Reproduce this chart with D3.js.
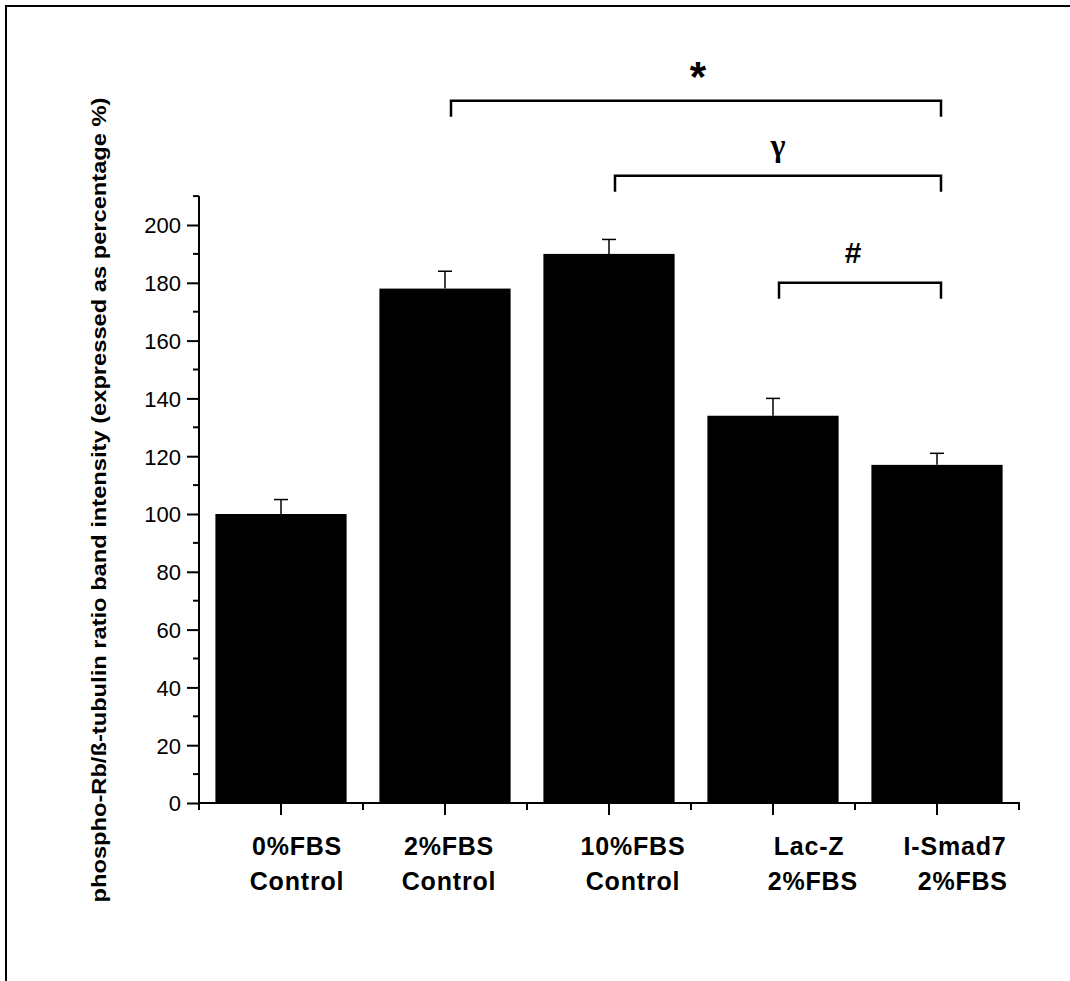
<!DOCTYPE html>
<html>
<head>
<meta charset="utf-8">
<script src="https://cdn.jsdelivr.net/npm/d3@7"></script>
<style>
  body { margin: 0; background: #fff; }
  svg text { font-family: "Liberation Sans", Arial, sans-serif; fill: #000; }
</style>
</head>
<body>
<svg id="chart" width="1070" height="981"></svg>
<script>
// data
var groups = ['0%FBS|Control', '2%FBS|Control', '10%FBS|Control', 'Lac-Z| 2%FBS', 'I-Smad7|  2%FBS'];
var values = [100, 178, 190, 134, 117];
var errors = [5, 6, 5, 6, 4];
var yTicks = [0, 20, 40, 60, 80, 100, 120, 140, 160, 180, 200];
var brackets = [
  { from: 1, to: 4, level: 243, mark: '*' },
  { from: 2, to: 4, level: 217, mark: '\u03b3' },
  { from: 3, to: 4, level: 180, mark: '#' }
];
var yTitle = 'phospho-Rb/\u00df-tubulin ratio band intensity (expressed as percentage %)';

var svg = d3.select('#chart');

// frame around the figure
svg.append('path')
    .attr('d', 'M6,981 V6 H1070')
    .attr('fill', 'none')
    .attr('stroke', '#000')
    .attr('stroke-width', 2);

var x = d3.scaleBand()
    .domain(d3.range(groups.length))
    .range([199, 1019])
    .paddingInner(0.2)
    .paddingOuter(0.1);

var y = d3.scaleLinear().domain([0, 200]).range([803, 225]);

// bars
svg.selectAll('rect.bar')
    .data(values)
  .enter().append('rect')
    .attr('class', 'bar')
    .attr('x', function(d, i) { return x(i); })
    .attr('width', x.bandwidth())
    .attr('y', function(d) { return y(d); })
    .attr('height', function(d) { return y(0) - y(d); })
    .attr('fill', '#000');

// error bars (upper half only)
var eb = svg.selectAll('g.err')
    .data(values)
  .enter().append('g')
    .attr('class', 'err')
    .attr('stroke', '#000')
    .attr('stroke-width', 1.5);
eb.append('line')
    .attr('x1', function(d, i) { return x(i) + x.bandwidth() / 2; })
    .attr('x2', function(d, i) { return x(i) + x.bandwidth() / 2; })
    .attr('y1', function(d) { return y(d); })
    .attr('y2', function(d, i) { return y(d + errors[i]); });
eb.append('line')
    .attr('x1', function(d, i) { return x(i) + x.bandwidth() / 2 - 7; })
    .attr('x2', function(d, i) { return x(i) + x.bandwidth() / 2 + 7; })
    .attr('y1', function(d, i) { return y(d + errors[i]); })
    .attr('y2', function(d, i) { return y(d + errors[i]); });

// y axis
var yAxis = svg.append('g')
    .attr('transform', 'translate(199,0)')
    .call(d3.axisLeft(y).tickValues(yTicks).tickSize(12).tickPadding(6));
yAxis.select('.domain').remove();
yAxis.append('line')
    .attr('y1', y(210)).attr('y2', y(0))
    .attr('stroke', '#000').attr('stroke-width', 2);
yAxis.selectAll('.tick line').attr('stroke-width', 2);
yAxis.selectAll('.tick text')
    .style('font-size', '22px')
    .attr('dy', '0.36em');
yAxis.selectAll('line.minor')
    .data(d3.range(10, 220, 20))
  .enter().append('line')
    .attr('class', 'minor')
    .attr('x1', -6).attr('x2', 0)
    .attr('y1', function(d) { return y(d); })
    .attr('y2', function(d) { return y(d); })
    .attr('stroke', '#000').attr('stroke-width', 2);

// x axis
var xAxis = svg.append('g').attr('transform', 'translate(0,' + y(0) + ')');
xAxis.append('line')
    .attr('x1', 199).attr('x2', 1020)
    .attr('stroke', '#000').attr('stroke-width', 2);
xAxis.selectAll('line.major')
    .data(d3.range(groups.length))
  .enter().append('line')
    .attr('x1', function(i) { return x(i) + x.bandwidth() / 2; })
    .attr('x2', function(i) { return x(i) + x.bandwidth() / 2; })
    .attr('y1', 0).attr('y2', 12)
    .attr('stroke', '#000').attr('stroke-width', 2);
xAxis.selectAll('line.minor')
    .data(d3.range(groups.length + 1))
  .enter().append('line')
    .attr('x1', function(i) { return 199 + i * x.step(); })
    .attr('x2', function(i) { return 199 + i * x.step(); })
    .attr('y1', 0).attr('y2', 7)
    .attr('stroke', '#000').attr('stroke-width', 2);

var labelShift = [16, 4, 24, 36, 18];
var lab = xAxis.selectAll('text.cat')
    .data(groups)
  .enter().append('text')
    .attr('class', 'cat')
    .attr('text-anchor', 'middle')
    .attr('x', function(d, i) { return x(i) + x.bandwidth() / 2 + labelShift[i]; })
    .style('font-size', '25px')
    .style('font-weight', 'bold')
    .style('letter-spacing', '0.8px')
    .style('white-space', 'pre');
lab.append('tspan')
    .attr('x', function(d, i) { return x(i) + x.bandwidth() / 2 + labelShift[i]; })
    .attr('y', 52)
    .text(function(d) { return d.split('|')[0]; });
lab.append('tspan')
    .attr('x', function(d, i) { return x(i) + x.bandwidth() / 2 + labelShift[i]; })
    .attr('y', 87)
    .text(function(d) { return d.split('|')[1]; });

// y title
svg.append('text')
    .attr('transform', 'translate(106,500) rotate(-90)')
    .attr('text-anchor', 'middle')
    .attr('textLength', 805)
    .attr('lengthAdjust', 'spacingAndGlyphs')
    .style('font-size', '21px')
    .style('font-weight', 'bold')
    .text(yTitle);

// significance brackets
var cx = function(i) { return x(i) + x.bandwidth() / 2; };
var markX = [698, 778, 853];
var markSize = ['42px', '32px', '30px'];
var br = svg.selectAll('g.bracket')
    .data(brackets)
  .enter().append('g')
    .attr('class', 'bracket');
br.append('path')
    .attr('d', function(d) {
      var yy = y(d.level);
      return 'M' + (cx(d.from) + 6) + ',' + (yy + 16) + 'V' + yy +
             'H' + (cx(d.to) + 4) + 'V' + (yy + 16);
    })
    .attr('fill', 'none')
    .attr('stroke', '#000')
    .attr('stroke-width', 2.5);
br.append('text')
    .attr('text-anchor', 'middle')
    .attr('x', function(d, i) { return markX[i]; })
    .attr('y', function(d) { return y(d.level) - 20; })
    .style('font-size', function(d, i) { return markSize[i]; })
    .style('font-weight', 'bold')
    .style('font-family', function(d) { return d.mark === '\u03b3' ? '"Liberation Serif", serif' : null; })
    .attr('dy', function(d) { return d.mark === '*' ? '0.25em' : '0'; })
    .text(function(d) { return d.mark; });
</script>
</body>
</html>
